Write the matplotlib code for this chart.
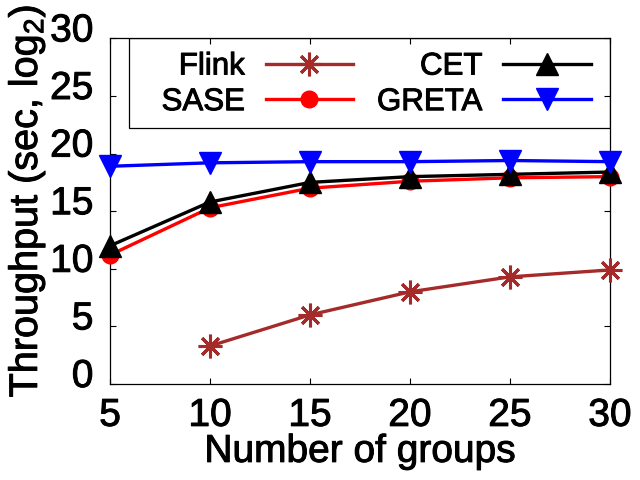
import matplotlib
matplotlib.use('Agg')
import matplotlib.pyplot as plt
import matplotlib.transforms as mtransforms
import matplotlib.patheffects as pe
from matplotlib.patches import Rectangle

plt.rcParams['font.family'] = ['Liberation Sans', 'DejaVu Sans']
plt.rcParams['mathtext.default'] = 'regular'

groups = [5, 10, 15, 20, 25, 30]
flink_x = [10, 15, 20, 25, 30]
flink = [3.3, 6.0, 8.0, 9.3, 9.9]
sase = [11.2, 15.3, 17.0, 17.6, 17.9, 18.0]
cet = [12.0, 15.8, 17.5, 18.0, 18.2, 18.4]
greta = [18.9, 19.2, 19.3, 19.3, 19.4, 19.3]
xticks = [5, 10, 15, 20, 25, 30]
yticks = [0, 5, 10, 15, 20, 25, 30]

# slightly heavier text, closer to the gnuplot look
bold = [pe.withStroke(linewidth=0.7, foreground='black')]

fig = plt.figure(figsize=(6.4, 4.8), dpi=100)
ax = fig.add_axes([0.172, 0.2, 0.781, 0.72])

lw = 2.4
ax.plot(flink_x, flink, color='#a52a2a', lw=lw, marker=(8, 2, 0), ms=17, mew=2.2,
        label='Flink', clip_on=False, zorder=3)
ax.plot(groups, sase, color='red', lw=lw, marker='o', ms=12, label='SASE',
        clip_on=False, zorder=3)
ax.plot(groups, cet, color='black', lw=lw, marker='^', ms=16, label='CET',
        clip_on=False, zorder=4)
ax.plot(groups, greta, color='blue', lw=lw, marker='v', ms=16, label='GRETA',
        clip_on=False, zorder=5)

ax.set_xlim(5, 30)
ax.set_ylim(0, 30)
ax.set_xticks(xticks)
ax.set_yticks(yticks)
ax.tick_params(direction='in', length=4, width=0.8, top=True, right=True,
               labelsize=28)
ax.tick_params(axis='x', pad=10)
ax.tick_params(axis='y', pad=12)
for s in ax.spines.values():
    s.set_linewidth(0.9)

ax.set_xlabel('Number of groups', fontsize=28, labelpad=0, path_effects=bold)
ax.set_ylabel('Throughput (sec, log$_2$)', fontsize=28.5, path_effects=bold)
ax.yaxis.set_label_coords(-0.126, 0.53)

# key box as in gnuplot
ax.add_patch(Rectangle((0.038, 0.74), 0.962, 0.26, transform=ax.transAxes,
                       fill=False, edgecolor='black', lw=0.9, zorder=6))
leg = ax.legend(ncol=2, markerfirst=False, loc='upper right', fontsize=22.5,
                frameon=False, bbox_to_anchor=(0.962, 0.962),
                borderaxespad=0, borderpad=0, handlelength=2.8,
                handletextpad=0.67, columnspacing=0.76, labelspacing=0.18)
for t in leg.get_texts():
    t.set_path_effects(bold)

# gnuplot places y tick labels slightly above the tick
offset = mtransforms.ScaledTranslation(0, 0.11, fig.dpi_scale_trans)
for lab in ax.get_yticklabels():
    lab.set_transform(lab.get_transform() + offset)
    lab.set_path_effects(bold)
for lab in ax.get_xticklabels():
    lab.set_path_effects(bold)

fig.savefig('out.png', dpi=100)
